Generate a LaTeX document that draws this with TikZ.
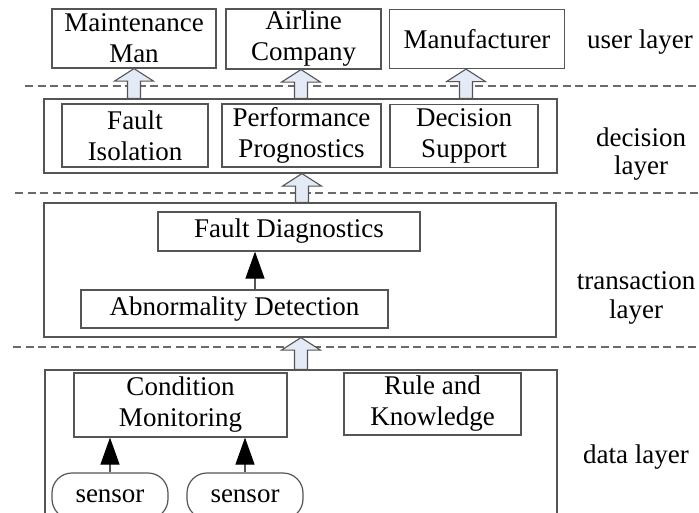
\documentclass[tikz,border=0pt]{standalone}
\usepackage{fontspec}
\setmainfont{Liberation Serif}
\usetikzlibrary{arrows.meta,calc}
\definecolor{boxgray}{HTML}{555555}
\definecolor{dashgray}{HTML}{6A6A6A}
\definecolor{arrowfill}{HTML}{E4EBF6}
\newcommand\hollowarrow[2]{%
  \draw[hollow] let \p1=(#1), \p2=(#2) in
    (\x1,\y1) -- (\x1+19.5pt,\y1-12.5pt) -- (\x1+6.5pt,\y1-12.5pt) -- (\x1+6.5pt,\y2)
    -- (\x1-6.5pt,\y2) -- (\x1-6.5pt,\y1-12.5pt) -- (\x1-19.5pt,\y1-12.5pt) -- cycle;}
\begin{document}
\begin{tikzpicture}[x=1pt,y=-1pt,
  every node/.style={font=\fontsize{27}{31}\selectfont, inner sep=0pt, text=black},
  box/.style={draw=boxgray, line width=1.2pt, align=center},
  outer/.style={draw=boxgray, line width=1.2pt},
  sensorbox/.style={draw=boxgray, line width=1.2pt, rounded corners=20pt, align=center},
  label/.style={align=center, font=\fontsize{27}{28.5}\selectfont},
  layerline/.style={draw=dashgray, line width=1.1pt, dash pattern=on 8pt off 4.5pt},
  hollow/.style={draw=boxgray, fill=arrowfill, line width=1.1pt, line join=miter},
  blk/.style={draw=boxgray, line width=1.2pt, -{Triangle[width=19pt,length=27pt,color=black]}}
]
\useasboundingbox (0,0) rectangle (699,512);
\clip (0,0) rectangle (699,512);

% layer separators
\coordinate (l1a) at (25,86);  \coordinate (l1b) at (699,86);
\coordinate (l2a) at (15,193); \coordinate (l2b) at (699,193);
\coordinate (l3a) at (13,347); \coordinate (l3b) at (699,347);
\draw[layerline] (l1a) -- (l1b);
\draw[layerline] (l2a) -- (l2b);
\draw[layerline] (l3a) -- (l3b);

% user layer
\node[box, minimum width=164pt, minimum height=59pt] (mm) at (134,38.5) {Maintenance\\Man};
\node[box, minimum width=155pt, minimum height=60pt] (ac) at (303.5,39) {Airline\\Company};
\node[box, minimum width=175pt, minimum height=59pt] (mf) at (477,39) {Manufacturer};
\node[label] (ul) at (640,42) {user layer};

% decision layer
\node[outer, minimum width=513pt, minimum height=74pt] (dec) at (300.5,136) {};
\node[box, minimum width=146pt, minimum height=63pt] (fi) at (135,135.5) {Fault\\Isolation};
\node[box, minimum width=159pt, minimum height=63pt] (pp) at (301.5,135.5) {Performance\\Prognostics};
\node[box, minimum width=148pt, minimum height=63pt] (ds) at (464,136) {Decision\\Support};
\node[label] (dl) at (641,154) {decision\\layer};

% transaction layer
\node[outer, minimum width=512pt, minimum height=134pt] (tr) at (300,270) {};
\node[box, minimum width=262pt, minimum height=39pt] (fd) at (289,231.5) {Fault Diagnostics};
\node[box, minimum width=307pt, minimum height=38pt] (ad) at (234.5,309) {Abnormality Detection};
\node[label] (tl) at (636,298) {transaction\\layer};

% data layer
\node[outer, minimum width=512pt, minimum height=160pt] (data) at (301,450) {};
\node[box, minimum width=213pt, minimum height=64pt] (cm) at (180.5,405) {Condition\\Monitoring};
\node[box, minimum width=177pt, minimum height=62pt] (rk) at (432.5,404) {Rule and\\Knowledge};
\node[sensorbox, minimum width=116pt, minimum height=46pt] (s1) at (110,496) {sensor};
\node[sensorbox, minimum width=116pt, minimum height=46pt] (s2) at (245,496) {sensor};
\node[label] (dal) at (636,457) {data layer};

% arrow positions
\coordinate (ax2) at (301,0);
\coordinate (ax3) at (466,0);
\coordinate (ax4) at (302,0);
\coordinate (ax5) at (301,0);
\coordinate (bx) at (255,0);

% hollow arrows
\hollowarrow{mm.south}{mm.south |- dec.north}
\hollowarrow{ac.south -| ax2}{dec.north -| ax2}
\hollowarrow{mf.south -| ax3}{dec.north -| ax3}
\hollowarrow{dec.south -| ax4}{tr.north -| ax4}
\hollowarrow{tr.south -| ax5}{data.north -| ax5}

% black arrows
\draw[blk] (ad.north -| bx) -- (fd.south -| bx);
\draw[blk] (s1.north) -- (s1.north |- cm.south);
\draw[blk] (s2.north) -- (s2.north |- cm.south);
\end{tikzpicture}
\end{document}
